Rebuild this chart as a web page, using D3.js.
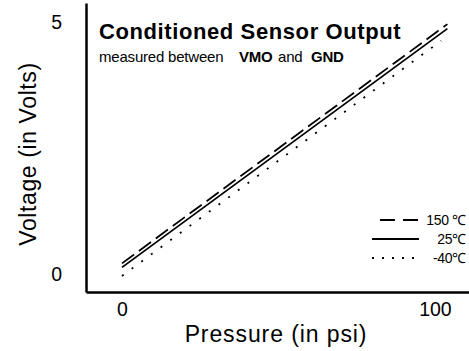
<!DOCTYPE html>
<html>
<head>
<meta charset="utf-8">
<script src="https://cdn.jsdelivr.net/npm/d3@7"></script>
<style>
  body { margin: 0; background: #fff; }
  svg text { font-family: "Liberation Sans", Arial, sans-serif; fill: #000; }
</style>
</head>
<body>
<svg id="chart" width="469" height="351"></svg>
<script>
// series data
var seriesNames = ["150 \u2103", "25\u2103", "-40\u2103"];
var pressure150 = [0, 104],  volts150 = [0.20, 4.96];
var pressure25  = [0, 104],  volts25  = [0.12, 4.87];
var pressureM40 = [0, 102],  voltsM40 = [-0.05, 4.63];
var xTicks = [0, 100];
var yTicks = [0, 5];

(function() {
  var svg = d3.select("#chart");

  // scales reach past the data so the axis lines run the whole frame
  var x = d3.scaleLinear().domain([-11.5, 110.9]).range([86, 469]),
      y = d3.scaleLinear().domain([-0.37, 5.38]).range([292, 3]);

  var series = [
    {name: seriesNames[0], p: pressure150, v: volts150, dash: "15,6"},
    {name: seriesNames[1], p: pressure25,  v: volts25,  dash: null},
    {name: seriesNames[2], p: pressureM40, v: voltsM40, dash: "2,10"}
  ];

  var xAxis = svg.append("g")
      .attr("transform", "translate(0,292)")
      .call(d3.axisBottom(x).tickValues(xTicks).tickFormat(d3.format("d"))
        .tickSize(0).tickSizeOuter(0).tickPadding(10));
  var yAxis = svg.append("g")
      .attr("transform", "translate(86,0)")
      .call(d3.axisLeft(y).tickValues(yTicks).tickFormat(d3.format("d"))
        .tickSize(0).tickSizeOuter(0).tickPadding(24));

  [xAxis, yAxis].forEach(function(a) {
    a.select(".domain").attr("stroke", "#000").attr("stroke-width", 2.5);
    a.selectAll("text").style("font-size", "19.5px")
      .style("font-family", "'Liberation Sans', Arial, sans-serif");
  });
  yAxis.selectAll("text").attr("dy", "0.35em");

  var line = d3.line()
      .x(function(d) { return x(d[0]); })
      .y(function(d) { return y(d[1]); });

  svg.selectAll(".series")
    .data(series)
    .enter().append("path")
      .attr("class", "series")
      .attr("fill", "none")
      .attr("stroke", "#000")
      .attr("stroke-width", 1.8)
      .attr("stroke-dasharray", function(d) { return d.dash; })
      .attr("d", function(d) { return line(d3.zip(d.p, d.v)); });

  // axis titles
  svg.append("text")
      .attr("x", 276).attr("y", 342)
      .attr("text-anchor", "middle")
      .style("font-size", "23px").style("letter-spacing", "0.9px")
      .text("Pressure (in psi)");
  svg.append("text")
      .attr("transform", "translate(36,154) rotate(-90)")
      .attr("text-anchor", "middle")
      .style("font-size", "23px").style("letter-spacing", "0.6px")
      .text("Voltage (in Volts)");

  // title block
  svg.append("text")
      .attr("x", 99).attr("y", 39)
      .style("font-size", "22px").style("font-weight", "bold")
      .style("letter-spacing", "0.6px")
      .text("Conditioned Sensor Output");
  var sub = svg.append("text")
      .attr("x", 99).attr("y", 62)
      .style("font-size", "15px").style("letter-spacing", "-0.2px");
  sub.append("tspan").text("measured between");
  sub.append("tspan").attr("x", 239).style("font-weight", "bold").text("VMO");
  sub.append("tspan").attr("x", 278).text("and");
  sub.append("tspan").attr("x", 311).style("font-weight", "bold").text("GND");

  // legend
  var legend = svg.selectAll(".legend")
    .data(series)
    .enter().append("g")
      .attr("class", "legend")
      .attr("transform", function(d, i) { return "translate(0," + (220 + i * 19) + ")"; });

  legend.append("line")
      .attr("x1", function(d, i) { return i === 0 ? 380 : 372; })
      .attr("x2", 419)
      .attr("stroke", "#000")
      .attr("stroke-width", 2)
      .attr("stroke-dasharray", function(d, i) { return i === 0 ? "15,8" : i === 2 ? "2,8" : null; });

  legend.append("text")
      .attr("x", 466).attr("dy", "0.35em")
      .attr("text-anchor", "end")
      .style("font-size", "14px").style("letter-spacing", "-0.3px")
      .text(function(d) { return d.name; });
})();
</script>
</body>
</html>
